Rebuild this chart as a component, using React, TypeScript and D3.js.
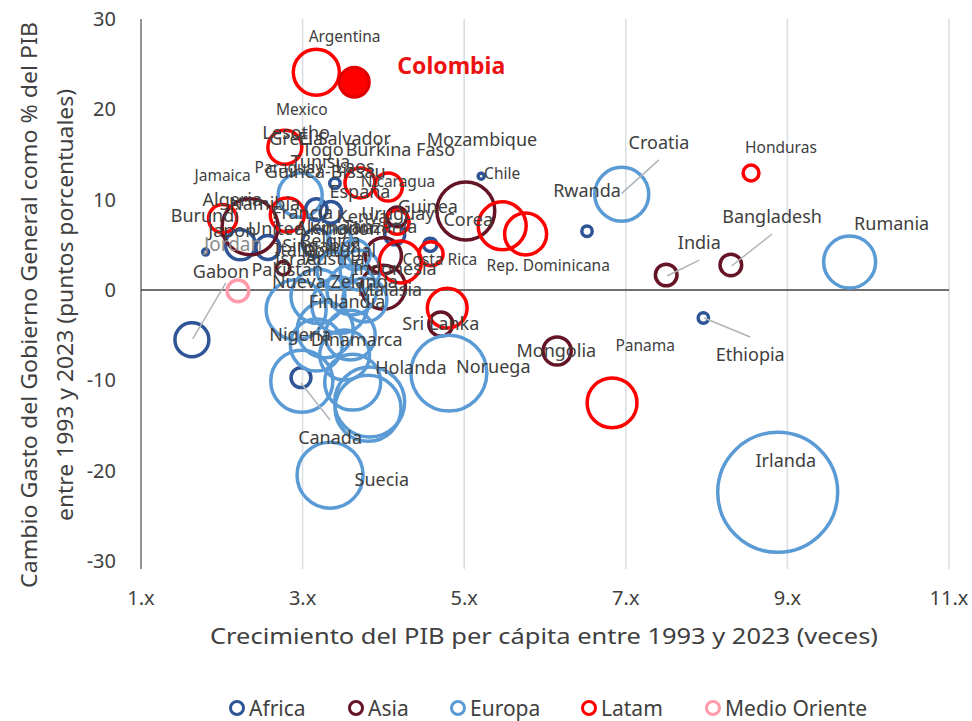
import React, { useEffect, useRef } from "react";
import * as d3 from "d3";

// regions in legend order
const regions = ["Africa", "Asia", "Europa", "Latam", "Medio Oriente"];
const regionColors = ["#2F5597", "#641425", "#5B9BD5", "#FF0000", "#FF9AAA"];

const xTicks = [1, 3, 5, 7, 9, 11];
const yTicks = [30, 20, 10, 0, -10, -20, -30];

// [growth (times), change in spending (pp), size]
const africa = [
  [1.63, -5.5, 32], [1.8, 4.2, 1], [2.23, 5.0, 25], [2.57, 4.7, 16],
  [2.98, -9.7, 11], [3.17, 8.9, 13], [3.35, 8.6, 13], [3.4, 11.8, 3],
  [4.58, 5.0, 5], [5.21, 12.6, 1], [6.52, 6.5, 3], [7.96, -3.1, 3],
  [4.14, 6.1, 11], [3.17, 5.2, 22],
];
const asia = [
  [5.02, 8.75, 93], [7.5, 1.66, 13], [8.3, 2.77, 13], [6.15, -6.75, 22],
  [4.71, -3.77, 16], [2.35, 7.0, 87], [2.76, 2.4, 5], [4.17, 8.1, 11],
  [4.0, 3.8, 36], [4.0, 0.3, 54],
];
const europa = [
  [9.77, 3.1, 75], [6.95, 10.6, 81], [8.88, -22.4, 400], [4.81, -9.2, 160],
  [3.34, -20.5, 121], [3.83, -12.4, 136], [3.81, -13.1, 121], [2.99, -10.1, 107],
  [3.62, -10.2, 87], [2.97, 10.5, 54], [2.92, -2.2, 100], [3.19, -0.7, 81],
  [3.46, -1.7, 87], [3.61, 0.0, 69], [3.77, -1.1, 54], [3.28, -4.4, 87],
  [3.59, -5.0, 69], [3.17, -6.1, 75], [3.52, -7.2, 69], [3.4, 2.2, 36],
  [3.71, 2.2, 44], [3.46, 5.5, 16], [3.65, 3.9, 25],
];
const latam = [
  [3.17, 24.1, 59], [2.78, 15.8, 32], [2.01, 7.9, 22], [2.81, 8.3, 32],
  [3.71, 11.85, 25], [4.06, 11.4, 22], [5.47, 7.1, 64], [5.76, 6.2, 49],
  [4.59, 4.0, 16], [4.79, -2.0, 44], [6.83, -12.5, 69], [8.55, 12.95, 7],
  [4.17, 7.5, 16], [4.21, 3.1, 49],
];
const medioOriente = [[2.2, -0.1, 13]];
const colombia = [3.64, 23.0, 25];

const seriesList = [africa, asia, europa, latam, medioOriente];

// data labels: [text, x, y, small?]
const labels: [string, number, number, boolean][] = [
  ["Argentina", 3.52, 28.1, true], ["Mexico", 2.99, 20.0, true],
  ["Lesotho", 2.92, 17.4, false], ["Grecia", 2.92, 16.8, false],
  ["El Salvador", 3.52, 16.7, false], ["Togo", 3.25, 15.5, false],
  ["Burkina Faso", 4.21, 15.5, false], ["Mozambique", 5.22, 16.6, false],
  ["Chile", 5.47, 12.85, true], ["Jamaica", 2.01, 12.7, true],
  ["Paraguay", 2.83, 13.5, true], ["Tunisia", 3.22, 14.2, false],
  ["Guinea-Bissau", 3.28, 13.1, false], ["Laos", 3.65, 13.7, false],
  ["Nicaragua", 4.18, 12.0, true], ["España", 3.71, 10.85, false],
  ["Algeria", 2.13, 10.0, false], ["Namibia", 2.53, 9.5, false],
  ["Burundi", 1.79, 8.2, false], ["Francia", 3.0, 8.6, false],
  ["Kenya", 3.74, 8.1, false], ["Uruguay", 4.18, 8.5, false],
  ["Guinea", 4.55, 9.2, false], ["Corea", 5.05, 7.75, false],
  ["Japon", 2.13, 6.6, false], ["United Kingdom", 3.18, 6.8, false],
  ["Alemania", 3.4, 6.9, false], ["Tanzania", 3.96, 7.0, false],
  ["Italia", 2.91, 4.5, false], ["Israel", 2.94, 3.5, false],
  ["Belgica", 3.34, 5.5, false], ["Singapur", 3.22, 4.9, false],
  ["Portugal", 3.46, 4.4, false], ["Austria", 3.4, 3.5, false],
  ["Costa Rica", 4.7, 3.4, true], ["Rep. Dominicana", 6.04, 2.65, true],
  ["Indonesia", 4.14, 2.4, false], ["Pakistan", 2.81, 2.2, false],
  ["Gabon", 1.99, 2.0, false], ["Nueva Zelanda", 3.4, 0.9, false],
  ["Malasia", 4.08, 0.0, false], ["Finlandia", 3.55, -1.3, false],
  ["Sri Lanka", 4.71, -3.75, false], ["Nigeria", 2.97, -5.0, false],
  ["Dinamarca", 3.67, -5.5, false], ["Mongolia", 6.14, -6.75, false],
  ["Panama", 7.24, -6.2, true], ["Ethiopia", 8.54, -7.2, false],
  ["Holanda", 4.34, -8.6, false], ["Noruega", 5.36, -8.5, false],
  ["Canada", 3.34, -16.4, false], ["Suecia", 3.98, -21.0, false],
  ["Irlanda", 8.98, -18.9, false], ["Croatia", 7.41, 16.3, false],
  ["Honduras", 8.92, 15.8, true], ["Rwanda", 6.52, 11.0, false],
  ["Bangladesh", 8.81, 8.1, false], ["India", 7.91, 5.2, false],
  ["Rumania", 10.29, 7.3, false],
];
const jordanLabel: [string, number, number] = ["Jordan", 2.14, 5.0];
const colombiaLabel: [string, number, number] = ["Colombia", 4.84, 24.8];

// leader lines [x1, y1, x2, y2]
const leaders = [
  [6.95, 10.7, 7.41, 14.4], [8.31, 2.66, 8.81, 6.2], [7.51, 1.55, 7.91, 3.3],
  [7.97, -3.1, 8.54, -5.2], [1.64, -5.4, 2.05, 0.8], [2.98, -10.3, 3.34, -14.4],
];

const App = () => {
  const svgRef = useRef(null);

  useEffect(() => {
    const width = 972;
    const height = 721;
    const margin = { top: 19, right: 23, bottom: 160, left: 141 };
    const font = "'Noto Sans', sans-serif";
    const ink = "#404040";

    const svg = d3.select(svgRef.current);
    svg.selectAll("*").remove();

    const x = d3.scaleLinear().domain([1, 11]).range([margin.left, width - margin.right]);
    const y = d3.scaleLinear().domain([-30, 30]).range([height - margin.bottom, margin.top]);
    const r = d3.scaleSqrt().domain([0, 400]).range([0, 60]);

    // vertical gridlines with small tick stubs below
    svg.append("g")
      .selectAll("line")
      .data(xTicks.slice(1))
      .join("line")
      .attr("x1", (d) => x(d))
      .attr("x2", (d) => x(d))
      .attr("y1", y(30))
      .attr("y2", y(-30) + 8)
      .attr("stroke", "#D9DEE4")
      .attr("stroke-width", 1.5);

    // left axis line
    svg.append("line")
      .attr("x1", x(1)).attr("x2", x(1))
      .attr("y1", y(30)).attr("y2", y(-30) + 8)
      .attr("stroke", "#595959").attr("stroke-width", 1.3);

    // zero line
    svg.append("line")
      .attr("x1", x(1)).attr("x2", x(11))
      .attr("y1", y(0)).attr("y2", y(0))
      .attr("stroke", "#404040").attr("stroke-width", 1.3);

    // y tick labels
    svg.append("g")
      .selectAll("text")
      .data(yTicks)
      .join("text")
      .attr("x", 116)
      .attr("y", (d) => y(d))
      .attr("dy", "0.35em")
      .attr("text-anchor", "end")
      .attr("font-family", font)
      .attr("font-size", 20)
      .attr("fill", ink)
      .text((d) => d);

    // x tick labels
    svg.append("g")
      .selectAll("text")
      .data(xTicks)
      .join("text")
      .attr("x", (d) => x(d))
      .attr("y", 605)
      .attr("text-anchor", "middle")
      .attr("font-family", font)
      .attr("font-size", 20)
      .attr("fill", ink)
      .text((d) => `${d}.x`);

    // axis titles
    svg.append("text")
      .attr("x", 544).attr("y", 644)
      .attr("text-anchor", "middle")
      .attr("font-family", font).attr("font-size", 21)
      .attr("fill", ink)
      .attr("textLength", 668).attr("lengthAdjust", "spacingAndGlyphs")
      .text("Crecimiento del PIB per cápita entre 1993 y 2023 (veces)");

    const yTitle = svg.append("g").attr("transform", "translate(0,305) rotate(-90)");
    yTitle.append("text")
      .attr("x", 0).attr("y", 37)
      .attr("text-anchor", "middle")
      .attr("font-family", font).attr("font-size", 21)
      .attr("fill", ink)
      .attr("textLength", 566).attr("lengthAdjust", "spacingAndGlyphs")
      .text("Cambio Gasto del Gobierno General como % del PIB");
    yTitle.append("text")
      .attr("x", 0).attr("y", 73)
      .attr("text-anchor", "middle")
      .attr("font-family", font).attr("font-size", 21)
      .attr("fill", ink)
      .attr("textLength", 432).attr("lengthAdjust", "spacingAndGlyphs")
      .text("entre 1993 y 2023 (puntos porcentuales)");

    // bubbles
    seriesList.forEach((series, i) => {
      svg.append("g")
        .selectAll("circle")
        .data(series)
        .join("circle")
        .attr("cx", (d) => x(d[0]))
        .attr("cy", (d) => y(d[1]))
        .attr("r", (d) => r(d[2]))
        .attr("fill", "none")
        .attr("stroke", regionColors[i])
        .attr("stroke-width", 3.5);
    });

    svg.append("circle")
      .attr("cx", x(colombia[0]))
      .attr("cy", y(colombia[1]))
      .attr("r", r(colombia[2]))
      .attr("fill", "#FF0000")
      .attr("stroke", "#E00000")
      .attr("stroke-width", 3);

    // leader lines
    svg.append("g")
      .selectAll("line")
      .data(leaders)
      .join("line")
      .attr("x1", (d) => x(d[0])).attr("y1", (d) => y(d[1]))
      .attr("x2", (d) => x(d[2])).attr("y2", (d) => y(d[3]))
      .attr("stroke", "#AEB4BA").attr("stroke-width", 1.5);

    // data labels
    svg.append("g")
      .selectAll("text")
      .data(labels)
      .join("text")
      .attr("x", (d) => x(d[1]))
      .attr("y", (d) => y(d[2]))
      .attr("dy", "0.35em")
      .attr("text-anchor", "middle")
      .attr("font-family", font)
      .attr("font-size", (d) => (d[3] ? 15.5 : 18))
      .attr("fill", ink)
      .text((d) => d[0]);

    svg.append("text")
      .attr("x", x(jordanLabel[1])).attr("y", y(jordanLabel[2]))
      .attr("dy", "0.35em").attr("text-anchor", "middle")
      .attr("font-family", font).attr("font-size", 19)
      .attr("fill", "#8C8C8C")
      .text(jordanLabel[0]);

    svg.append("text")
      .attr("x", x(colombiaLabel[1])).attr("y", y(colombiaLabel[2]))
      .attr("dy", "0.35em").attr("text-anchor", "middle")
      .attr("font-family", font).attr("font-size", 23)
      .attr("font-weight", "bold")
      .attr("fill", "#EE1111")
      .text(colombiaLabel[0]);

    // legend
    const legendX = [237, 356, 458, 589, 713];
    const legend = svg.append("g")
      .selectAll("g")
      .data(regions)
      .join("g")
      .attr("transform", (d, i) => `translate(${legendX[i]},708)`);
    legend.append("circle")
      .attr("r", 6.5)
      .attr("fill", "none")
      .attr("stroke", (d, i) => regionColors[i])
      .attr("stroke-width", 3);
    legend.append("text")
      .attr("x", 12)
      .attr("dy", "0.36em")
      .attr("font-family", font)
      .attr("font-size", 21)
      .attr("fill", ink)
      .text((d) => d);
  }, []);

  return (
    <div style={{ position: "absolute", left: 0, top: 0 }}>
      <svg ref={svgRef} width={972} height={721} style={{ display: "block" }}></svg>
    </div>
  );
};

export default App;
